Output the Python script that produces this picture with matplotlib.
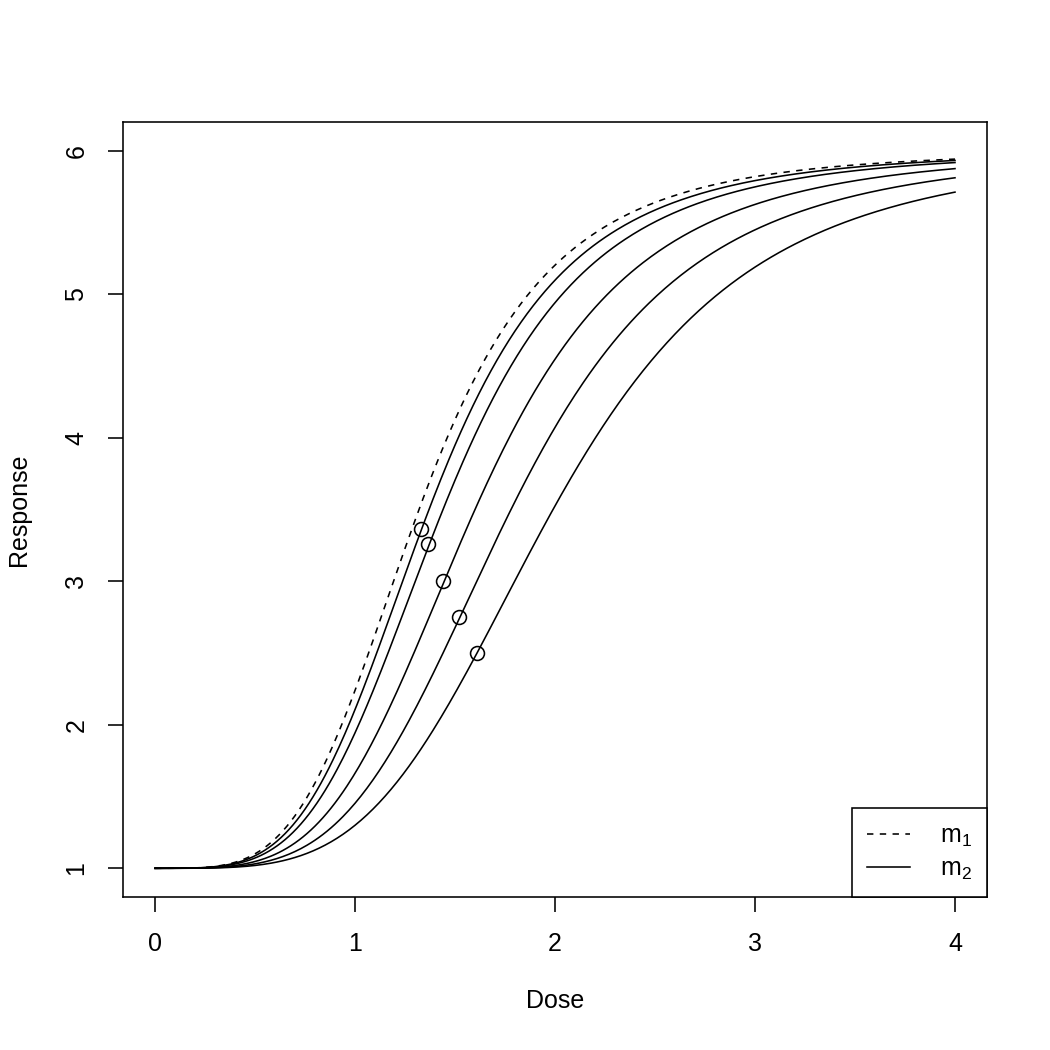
import numpy as np
import matplotlib
matplotlib.use("Agg")
import matplotlib.pyplot as plt

plt.rcParams['font.family'] = ['Liberation Sans', 'DejaVu Sans']
plt.rcParams['mathtext.fontset'] = 'custom'
plt.rcParams['mathtext.rm'] = 'Liberation Sans'

# sigmoid Emax model parameters
e0 = 1.0
emax = 5.0
hill = 4.0
ed50_m1 = 1.32
ed50_m2 = [1.37, 1.44, 1.60, 1.78, 1.99]

# marked points on the m2 curves
pt_dose = [1.328, 1.367, 1.438, 1.518, 1.608]
pt_resp = [3.364, 3.257, 3.001, 2.752, 2.497]

x_ticks = [0, 1, 2, 3, 4]
y_ticks = [1, 2, 3, 4, 5, 6]


def emax_curve(d, ed50):
    return e0 + emax * d**hill / (ed50**hill + d**hill)


dose = np.linspace(0, 4, 401)
lw = 1.15

fig = plt.figure(figsize=(10.5, 10.5), dpi=100)
ax = fig.add_axes([123/1050, 1 - 897/1050, (987-123)/1050, (897-122)/1050])

ax.plot(dose, emax_curve(dose, ed50_m1), color='black', lw=lw,
        dashes=(4, 4), label=r'$\mathregular{m_1}$')
for i, e in enumerate(ed50_m2):
    ax.plot(dose, emax_curve(dose, e), color='black', lw=lw,
            label=r'$\mathregular{m_2}$' if i == 0 else None)
ax.plot(pt_dose, pt_resp, 'o', ms=10, mfc='none', mec='black', mew=lw)

ax.set_xlim(-0.16, 4.16)
ax.set_ylim(0.8, 6.2)
ax.set_xticks(x_ticks)
ax.set_yticks(y_ticks)
ax.tick_params(labelsize=18, length=11, width=lw, pad=14)
for lab in ax.get_yticklabels():
    lab.set_rotation(90)
    lab.set_va('center')
for s in ax.spines.values():
    s.set_linewidth(lw)

fig.text(555/1050, 1 - 1001/1050, 'Dose', ha='center', va='center', fontsize=18)
fig.text(19/1050, 1 - 510/1050, 'Response', ha='center', va='center',
         rotation=90, fontsize=18)

leg = ax.legend(loc='lower right', borderaxespad=0, fancybox=False,
                framealpha=1, edgecolor='black', fontsize=18,
                handlelength=1.7, handletextpad=1.2, borderpad=0.62,
                labelspacing=0.3)
leg.get_frame().set_linewidth(lw)

fig.savefig('out.png', dpi=100)
